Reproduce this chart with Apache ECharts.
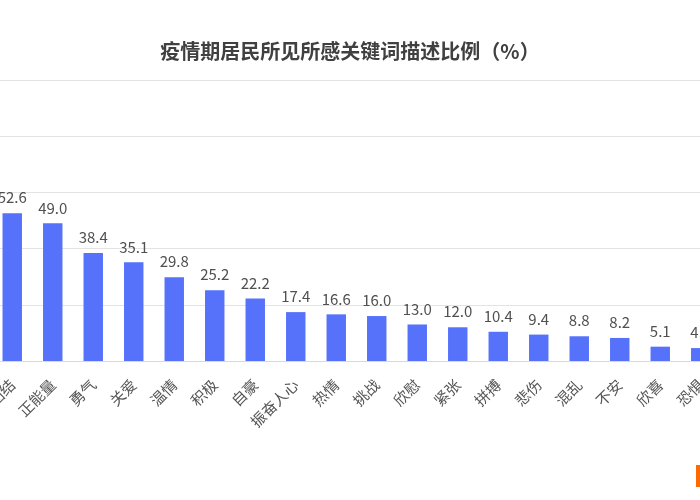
<!DOCTYPE html>
<html>
<head>
<meta charset="utf-8">
<script src="https://cdn.jsdelivr.net/npm/echarts@6/dist/echarts.min.js"></script>
<style>html,body{margin:0;padding:0;background:#fff;}#c{width:700px;height:500px;}</style>
</head>
<body>
<div id="c"></div>
<script>
const titleText = '疫情期居民所见所感关键词描述比例（%）';
const categories = ['团结','正能量','勇气','关爱','温情','积极','自豪','振奋人心','热情','挑战','欣慰','紧张','拼搏','悲伤','混乱','不安','欣喜','恐惧'];
const values = [52.6,49.0,38.4,35.1,29.8,25.2,22.2,17.4,16.6,16.0,13.0,12.0,10.4,9.4,8.8,8.2,5.1,4.6];
const yTicks = { min: 0, max: 100, interval: 20 };

const chart = echarts.init(document.getElementById('c'));
chart.setOption({
  backgroundColor: '#ffffff',
  animation: false,
  textStyle: { fontFamily: '"Noto Sans CJK SC", "Noto Sans", sans-serif' },
  title: {
    text: titleText,
    left: 'center',
    top: 36,
    textStyle: { fontSize: 20, fontWeight: 'bold', color: '#404040', fontFamily: '"Noto Sans CJK SC", sans-serif' }
  },
  grid: { left: -8, right: -21, top: 80, bottom: 139, containLabel: false, outerBoundsMode: 'none' },
  xAxis: {
    type: 'category',
    data: categories,
    axisLine: { show: true, lineStyle: { color: '#d9d9d9' } },
    axisTick: { show: false },
    axisLabel: { interval: 0, rotate: 45, fontSize: 15, color: '#555', margin: 21 }
  },
  yAxis: {
    type: 'value',
    min: yTicks.min, max: yTicks.max, interval: yTicks.interval,
    axisLine: { show: false },
    axisTick: { show: false },
    axisLabel: { show: false },
    splitLine: { lineStyle: { color: '#e3e3e3' } }
  },
  series: [{
    type: 'bar',
    data: values,
    barWidth: '48%',
    itemStyle: { color: '#5672fb' },
    label: {
      show: true, position: 'top', distance: 8,
      fontSize: 15, color: '#505050',
      formatter: p => p.value.toFixed(1)
    }
  }],
  graphic: [{
    type: 'rect',
    shape: { x: 696, y: 465, width: 6, height: 22 },
    style: { fill: '#ff6a00' },
    silent: true
  }]
});
</script>
</body>
</html>
